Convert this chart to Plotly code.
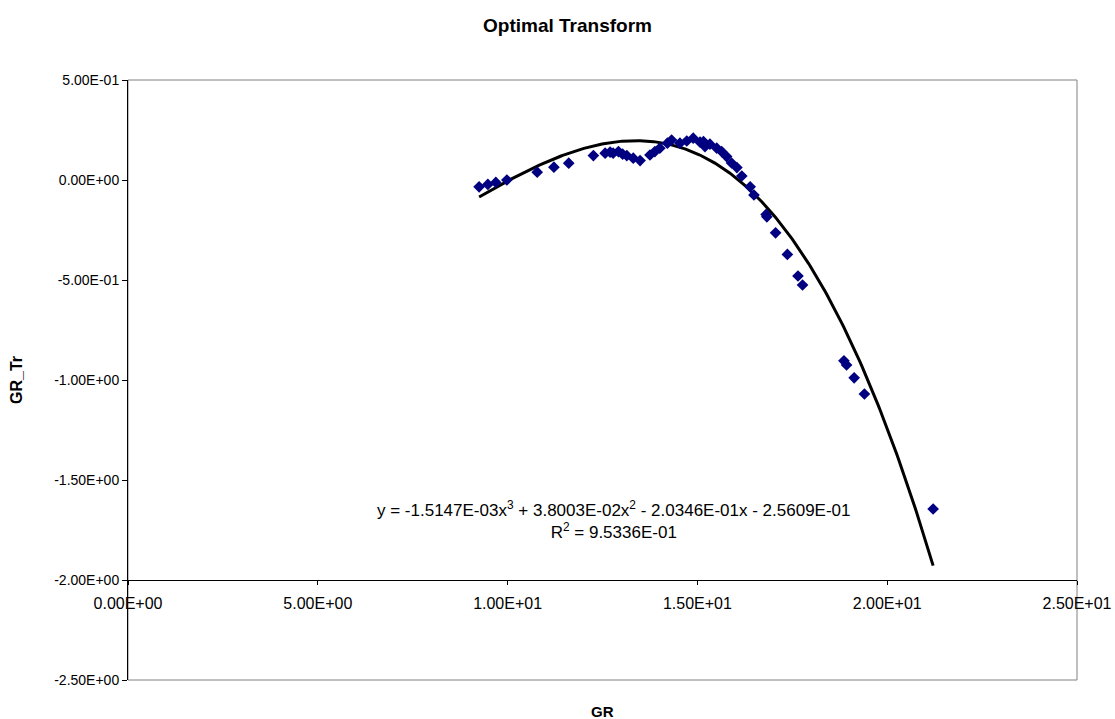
import numpy as np
import plotly.graph_objects as go

# ---- data ----
gr = [9.25, 9.48, 9.69, 9.98, 10.78, 11.22, 11.61, 12.26, 12.57, 12.70, 12.78, 12.92,
      13.03, 13.14, 13.31, 13.49, 13.75, 13.88, 14.01, 14.21, 14.32, 14.54, 14.72,
      14.89, 15.07, 15.16, 15.20, 15.33, 15.51, 15.64, 15.77, 15.90, 16.04, 16.17,
      16.39, 16.49, 16.81, 16.83, 17.06, 17.37, 17.65, 17.77, 18.86, 18.93, 19.13,
      19.40, 21.21]
gr_tr = [-0.034, -0.022, -0.012, 0.000, 0.039, 0.064, 0.084, 0.122, 0.134, 0.139, 0.134,
         0.142, 0.129, 0.122, 0.109, 0.097, 0.125, 0.142, 0.159, 0.184, 0.200, 0.184,
         0.195, 0.209, 0.189, 0.192, 0.167, 0.179, 0.159, 0.142, 0.117, 0.085, 0.062,
         0.020, -0.034, -0.075, -0.172, -0.184, -0.264, -0.372, -0.480, -0.525, -0.904,
         -0.925, -0.989, -1.070, -1.645]

# trendline coefficients shown in the chart (x^3, x^2, x, const)
trend_coeffs = [-1.5147e-03, 3.8003e-02, -2.0346e-01, -2.5609e-01]
r_squared = "9.5336E-01"

x_tickvals = [0, 5, 10, 15, 20, 25]
x_ticktext = ["0.00E+00", "5.00E+00", "1.00E+01", "1.50E+01", "2.00E+01", "2.50E+01"]
y_tickvals = [0.5, 0.0, -0.5, -1.0, -1.5, -2.0, -2.5]
y_ticktext = ["5.00E-01", "0.00E+00", "-5.00E-01", "-1.00E+00", "-1.50E+00", "-2.00E+00", "-2.50E+00"]

# ---- trendline through the data range ----
xs = np.linspace(min(gr), max(gr), 300)
ys = np.polyval(trend_coeffs, xs)

FONT = "Liberation Sans, Arial, sans-serif"
W, H = 1115, 719
ML, MR, MT, MB = 128, 38, 80, 39
PW, PH = W - ML - MR, H - MT - MB


def px_to_paper(px, py):
    return (px - ML) / PW, (H - MB - py) / PH


fig = go.Figure()
fig.add_trace(go.Scatter(x=xs, y=ys, mode="lines",
                         line=dict(color="black", width=3), hoverinfo="skip",
                         showlegend=False))
fig.add_trace(go.Scatter(x=gr, y=gr_tr, mode="markers",
                         marker=dict(symbol="diamond", size=9, color="#000080",
                                     line=dict(width=0)),
                         showlegend=False))

eq_text = ("y = -1.5147E-03x<sup>3</sup> + 3.8003E-02x<sup>2</sup> - 2.0346E-01x - 2.5609E-01"
           "<br>R<sup>2</sup> = " + r_squared)

tx, ty = px_to_paper(567, 25)
gx, gy = px_to_paper(602, 711)
yx, yy = px_to_paper(16, 380)

fig.update_layout(
    width=W, height=H,
    margin=dict(l=ML, r=MR, t=MT, b=MB, autoexpand=False),
    paper_bgcolor="white", plot_bgcolor="white",
    font=dict(family=FONT, size=16, color="black"),
    xaxis=dict(range=[0, 25], tickvals=x_tickvals, ticktext=x_ticktext,
               anchor="free", position=1/6, showline=True, linecolor="black",
               linewidth=1, ticks="outside", ticklen=4, tickcolor="black",
               ticklabelstandoff=5, automargin=False,
               showgrid=False, zeroline=False, tickfont=dict(size=16)),
    yaxis=dict(range=[-2.5, 0.5], tickvals=y_tickvals, ticktext=y_ticktext,
               showline=True, linecolor="black", linewidth=1, ticks="outside",
               ticklen=5, tickcolor="black", showgrid=False, zeroline=False,
               automargin=False, tickfont=dict(size=14)),
    shapes=[dict(type="rect", xref="paper", yref="paper", x0=0, x1=1, y0=0, y1=1,
                 line=dict(color="#808080", width=1), layer="below")],
    annotations=[
        dict(text="<b>Optimal Transform</b>", x=tx, y=ty, xref="paper", yref="paper",
             xanchor="center", yanchor="middle", showarrow=False, font=dict(size=19)),
        dict(text="<b>GR</b>", xref="paper", yref="paper", x=gx, y=gy,
             xanchor="center", yanchor="middle", showarrow=False, font=dict(size=15)),
        dict(text="<b>GR_Tr</b>", xref="paper", yref="paper", x=yx, y=yy,
             xanchor="center", yanchor="middle", showarrow=False, textangle=-90,
             font=dict(size=16)),
        dict(text=eq_text, xref="x", yref="y", x=12.8, y=-1.70, showarrow=False,
             xanchor="center", yanchor="middle", font=dict(size=17), align="center"),
    ],
)

fig.write_html("out.html")
